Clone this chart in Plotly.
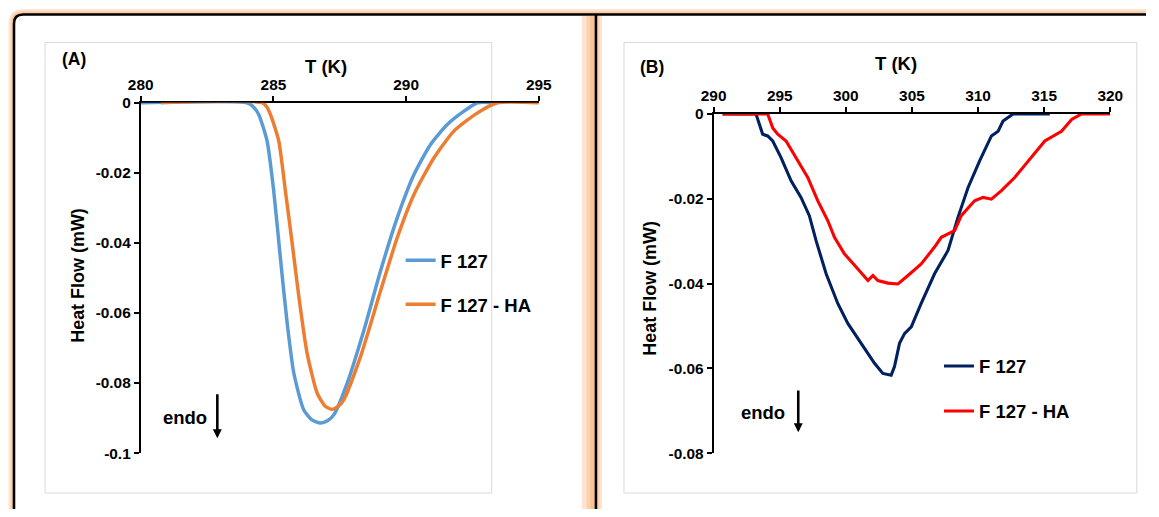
import plotly.graph_objects as go

# Canvas of the reference; the photographed page shows the figure slightly
# shrunk about its centre, so positions are given in reference pixels and
# converted with a small correction.
W, H = 1159, 517
SX, SY, OX, OY = 0.976, 0.970, 13.0, 7.5
FS = 1.027  # size correction for fonts / widths

# ---------------- Data ----------------
# Panel A
a_f127_T = [280.0, 284.01, 284.25, 284.45, 284.76, 285.01, 285.26, 285.52, 285.77, 286.14,
            286.45, 286.77, 287.05, 287.28, 287.78, 288.41, 289.04, 289.67, 290.30, 290.92,
            291.55, 292.18, 292.69, 293.26]
a_f127_HF = [0, 0, -0.0012, -0.0034, -0.0109, -0.0251, -0.0441, -0.063, -0.0772, -0.0876,
             -0.0905, -0.0914, -0.0907, -0.089, -0.080, -0.0649, -0.0479, -0.0327, -0.0204, -0.0119,
             -0.0062, -0.0024, 0, 0]

a_ha_T = [280.76, 284.57, 284.75, 284.89, 285.20, 285.45, 285.71, 285.96, 286.27, 286.65,
          286.95, 287.21, 287.45, 287.65, 288.28, 289.04, 289.67, 290.30, 291.05, 291.80,
          292.69, 293.44, 295.0]
a_ha_HF = [0, 0, -0.0012, -0.0034, -0.0109, -0.0251, -0.0403, -0.0554, -0.0715, -0.0829,
           -0.0866, -0.0875, -0.0866, -0.0848, -0.0725, -0.0536, -0.0384, -0.0261, -0.0157, -0.0081,
           -0.0029, 0, 0]

# Panel B
b_f127_T = [290.68, 293.20, 293.71, 294.09, 294.47, 295.10, 295.86, 296.61, 297.24, 297.75,
            298.51, 299.39, 300.15, 301.16, 302.17, 302.80, 303.43, 303.68, 304.06, 304.44,
            304.95, 305.70, 306.71, 307.73, 308.48, 309.24, 310.12, 311.01, 311.52, 311.89,
            312.65, 315.43]
b_f127_HF = [0, 0, -0.0048, -0.0052, -0.0064, -0.0103, -0.0158, -0.0197, -0.024, -0.0299,
             -0.0377, -0.0447, -0.0494, -0.0541, -0.0588, -0.0612, -0.0616, -0.0596, -0.0541, -0.0518,
             -0.0502, -0.0447, -0.0377, -0.0322, -0.0244, -0.0174, -0.0111, -0.0052, -0.0041, -0.0017,
             0, 0]

b_ha_T = [290.68, 294.09, 294.47, 294.85, 295.48, 296.23, 297.12, 297.88, 298.64, 299.14,
          299.89, 300.78, 301.67, 302.05, 302.42, 303.18, 303.94, 304.70, 305.70, 306.71,
          307.22, 308.23, 308.73, 309.74, 310.38, 311.01, 311.77, 312.77, 314.04, 315.05,
          316.31, 317.08, 317.83, 320.0]
b_ha_HF = [0, 0, -0.0033, -0.0048, -0.0064, -0.0103, -0.015, -0.0205, -0.0252, -0.0291,
           -0.033, -0.0361, -0.0393, -0.0381, -0.0393, -0.0399, -0.0401, -0.0381, -0.0354, -0.0314,
           -0.0291, -0.0275, -0.024, -0.0205, -0.0197, -0.0201, -0.0181, -0.015, -0.0103, -0.0064,
           -0.0041, -0.0013, 0, 0]

a_xticks = [280, 285, 290, 295]
a_yticks = [0, -0.02, -0.04, -0.06, -0.08, -0.1]
a_yticktext = ["0", "-0.02", "-0.04", "-0.06", "-0.08", "-0.1"]
b_xticks = [290, 295, 300, 305, 310, 315, 320]
b_yticks = [0, -0.02, -0.04, -0.06, -0.08]
b_yticktext = ["0", "-0.02", "-0.04", "-0.06", "-0.08"]

series_names = ["F 127", "F 127 - HA"]
FONT = "Liberation Sans, Arial, sans-serif"


def dx(x):
    return (x - OX) / SX


def dy(y):
    return (y - OY) / SY


def px(x):
    """reference pixel x -> paper fraction"""
    return min(max(dx(x), 0.0), W) / W


def py(y):
    """reference pixel y -> paper fraction (from bottom)"""
    return (H - min(max(dy(y), 0.0), H)) / H


def fs(v):
    return round(v * FS, 2)


fig = go.Figure()
fig.add_trace(go.Scatter(x=a_f127_T, y=a_f127_HF, name=series_names[0], mode="lines",
                         line=dict(color="#5B9BD5", width=fs(3.4), shape="spline", smoothing=0.6),
                         xaxis="x", yaxis="y", legend="legend", legendgroup="a1", cliponaxis=False))
fig.add_trace(go.Scatter(x=a_ha_T, y=a_ha_HF, name=series_names[1], mode="lines",
                         line=dict(color="#ED7D31", width=fs(3.4), shape="spline", smoothing=0.6),
                         xaxis="x", yaxis="y", legend="legend", legendgroup="a2", cliponaxis=False))
fig.add_trace(go.Scatter(x=b_f127_T, y=b_f127_HF, name=series_names[0], mode="lines",
                         line=dict(color="#002060", width=fs(3)),
                         xaxis="x2", yaxis="y2", legend="legend2", legendgroup="b1", cliponaxis=False))
fig.add_trace(go.Scatter(x=b_ha_T, y=b_ha_HF, name=series_names[1], mode="lines",
                         line=dict(color="#FF0000", width=fs(3)),
                         xaxis="x2", yaxis="y2", legend="legend2", legendgroup="b2", cliponaxis=False))

tickfont = dict(family=FONT, size=fs(15), color="black", weight="bold")
axis_common = dict(showgrid=False, zeroline=False, showline=True, linecolor="black", linewidth=fs(1.5),
                   ticks="outside", ticklen=fs(5), tickwidth=fs(1.5), tickcolor="black",
                   tickfont=tickfont, layer="below traces", fixedrange=True)
legfont = dict(family=FONT, size=fs(18), color="black", weight="bold")

fig.update_layout(
    width=W, height=H, autosize=False,
    margin=dict(l=0, r=0, t=0, b=0),
    paper_bgcolor="white", plot_bgcolor="rgba(0,0,0,0)",
    xaxis=dict(domain=[px(140.5), px(538)], range=[280, 295], side="top", anchor="y",
               tickvals=a_xticks, **axis_common),
    yaxis=dict(domain=[py(453), py(101.5)], range=[-0.1, 0], anchor="x",
               tickvals=a_yticks, ticktext=a_yticktext, **axis_common),
    xaxis2=dict(domain=[px(712.5), px(1108.5)], range=[290, 320], side="top", anchor="y2",
                tickvals=b_xticks, **axis_common),
    yaxis2=dict(domain=[py(453), py(112.7)], range=[-0.08, 0], anchor="x2",
                tickvals=b_yticks, ticktext=b_yticktext, **axis_common),
    legend=dict(x=px(400), y=py(241), xanchor="left", yanchor="top", bgcolor="rgba(0,0,0,0)",
                font=legfont, tracegroupgap=17, itemclick=False, itemdoubleclick=False),
    legend2=dict(x=px(937.5), y=py(347), xanchor="left", yanchor="top", bgcolor="rgba(0,0,0,0)",
                 font=legfont, tracegroupgap=18, itemclick=False, itemdoubleclick=False),
    showlegend=True,
)

# ---------------- Frames with orange glow (kept inside the paper) ----------------
shapes = []
r = 9
top = 13
lx0 = 14.0
div_x = 595
right_end = OX + SX * W
bottom_end = OY + SY * H

frame_path = (f"M {px(lx0)},{py(bottom_end)} L {px(lx0)},{py(top + r)} "
              f"Q {px(lx0)},{py(top)} {px(lx0 + r)},{py(top)} L {px(right_end)},{py(top)}")
fill_path = (f"M {px(lx0)},{py(bottom_end)} L {px(lx0)},{py(top + r)} "
             f"Q {px(lx0)},{py(top)} {px(lx0 + r)},{py(top)} L {px(right_end)},{py(top)} "
             f"L {px(right_end)},{py(bottom_end)} Z")

glow = "rgba(247,150,70,0.25)"
for wdt in (11, 7, 3.5):
    shapes.append(dict(type="path", path=frame_path, xref="paper", yref="paper", layer="below",
                       line=dict(color=glow, width=wdt), fillcolor="rgba(0,0,0,0)"))
shapes.append(dict(type="path", path=fill_path, xref="paper", yref="paper", layer="below",
                   line=dict(color="rgba(0,0,0,0)", width=0), fillcolor="white"))
# glow around the divider
for wdt, off in ((20, -4), (13, -3), (7, -2)):
    shapes.append(dict(type="line", xref="paper", yref="paper", layer="below",
                       x0=px(div_x + off), x1=px(div_x + off), y0=py(top + 1.5), y1=py(bottom_end),
                       line=dict(color=glow, width=wdt)))
shapes.append(dict(type="path", path=frame_path, xref="paper", yref="paper", layer="below",
                   line=dict(color="black", width=fs(2.5)), fillcolor="rgba(0,0,0,0)"))
shapes.append(dict(type="line", xref="paper", yref="paper", layer="below",
                   x0=px(div_x), x1=px(div_x), y0=py(top), y1=py(bottom_end),
                   line=dict(color="black", width=fs(2.5))))
# inner chart-area borders
for (x0, y0, x1, y1) in ((45, 41, 491, 493), (623, 41, 1135, 493)):
    shapes.append(dict(type="rect", xref="paper", yref="paper", layer="below",
                       x0=px(x0), x1=px(x1), y0=py(y1), y1=py(y0),
                       line=dict(color="#D9D9D9", width=1), fillcolor="rgba(0,0,0,0)"))
fig.update_layout(shapes=shapes)

# ---------------- Text annotations ----------------
def txt(x, y, s, size, angle=0):
    return dict(x=px(x), y=py(y), xref="paper", yref="paper", text=s, showarrow=False,
                textangle=angle, xanchor="center", yanchor="middle",
                font=dict(family=FONT, size=fs(size), color="black", weight="bold"))


def arrow(x, y_tail, y_tip):
    return dict(x=px(x), y=py(y_tip), xref="paper", yref="paper", text="", showarrow=True,
                ax=0, ay=-(dy(y_tip) - dy(y_tail)), axref="pixel", ayref="pixel",
                arrowhead=2, arrowsize=0.7, arrowwidth=fs(2.5), arrowcolor="black")


annotations = [
    txt(74, 58, "(A)", 17),
    txt(325, 65, "T (K)", 18),
    txt(78, 275, "Heat Flow (mW)", 17.5, -90),
    txt(185, 417, "endo", 18),
    arrow(217, 394, 438),
    txt(651, 66, "(B)", 17),
    txt(895, 62, "T (K)", 18),
    txt(649, 288, "Heat Flow (mW)", 17.5, -90),
    txt(762, 412, "endo", 18),
    arrow(797, 390, 432),
]
fig.update_layout(annotations=annotations)

fig.write_html("out.html", config={"displayModeBar": False, "responsive": False},
               post_script="document.body.style.margin='0';document.body.style.overflow='hidden';")
